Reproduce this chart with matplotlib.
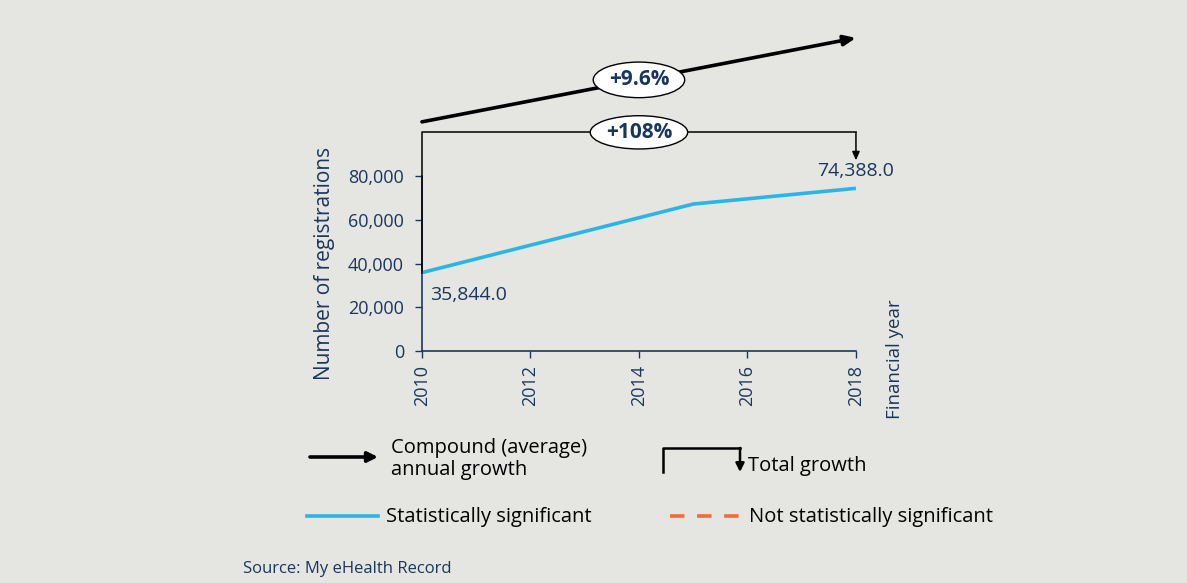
import matplotlib.pyplot as plt
from matplotlib.lines import Line2D
from matplotlib.patches import FancyArrowPatch

years = [2010, 2015, 2018]
registrations = [35844, 67200, 74388]
x_ticks = [2010, 2012, 2014, 2016, 2018]
y_ticks = [0, 20000, 40000, 60000, 80000]
cagr_label = "+9.6%"
total_label = "+108%"

navy = "#1b365d"
blue = "#2bb5e6"
orange = "#f26a36"
bg = "#e5e6e1"

plt.rcParams['font.family'] = ['Open Sans', 'DejaVu Sans']

fig = plt.figure(figsize=(11.87, 5.83), dpi=100)
fig.patch.set_facecolor(bg)
ax = fig.add_axes([0.3555, 0.398, 0.3656, 0.300])
ax.set_facecolor(bg)

ax.plot(years, registrations, color=blue, lw=2.6, solid_capstyle='butt', zorder=3)
ax.text(years[0] + 0.15, registrations[0] - 6000, f"{registrations[0]:,.1f}",
        color=navy, fontsize=14, va='top', ha='left')
ax.text(years[-1], registrations[-1] + 4000, f"{registrations[-1]:,.1f}",
        color=navy, fontsize=14, va='bottom', ha='center')

ax.set_xlim(2010, 2018)
ax.set_ylim(0, 80000)
ax.set_xticks(x_ticks)
ax.set_xticklabels([str(t) for t in x_ticks], rotation=90)
ax.set_yticks(y_ticks)
ax.set_yticklabels([f"{t:,}" for t in y_ticks])
ax.tick_params(colors=navy, labelsize=13, length=5, width=1, labelcolor=navy)
ax.tick_params(axis='y', pad=8)
ax.tick_params(axis='x', pad=5)
for side in ['top', 'right']:
    ax.spines[side].set_visible(False)
for side in ['left', 'bottom']:
    ax.spines[side].set_color(navy)
    ax.spines[side].set_linewidth(1.2)
ax.set_ylabel("Number of registrations", color=navy, fontsize=15, labelpad=9)
ax.text(1.09, -0.39, "Financial year", transform=ax.transAxes, rotation=90,
        color=navy, fontsize=13.5, ha='center', va='bottom')

# growth markers above the plot: x in data, y in axes fraction
tr = ax.get_xaxis_transform()
ax.annotate("", xy=(2018, 1.79), xytext=(2010, 1.31), xycoords=tr, textcoords=tr,
            annotation_clip=False, zorder=4,
            arrowprops=dict(arrowstyle='-|>,head_length=0.7,head_width=0.3',
                            color='black', lw=2.6, shrinkA=0, shrinkB=0))
ax.text(2014, 1.55, cagr_label, transform=tr, ha='center', va='center',
        fontsize=15, fontweight='bold', color=navy, zorder=6,
        bbox=dict(boxstyle='ellipse,pad=0.1', fc='white', ec='black', lw=1))

ax.plot([2010, 2010, 2018], [registrations[0] / 80000, 1.25, 1.25], transform=tr,
        color='black', lw=1.1, clip_on=False, zorder=4)
ax.annotate("", xy=(2018, 1.09), xytext=(2018, 1.25), xycoords=tr, textcoords=tr,
            annotation_clip=False, zorder=4,
            arrowprops=dict(arrowstyle='-|>,head_length=0.5,head_width=0.22',
                            color='black', lw=1.1, shrinkA=0, shrinkB=0))
ax.text(2014, 1.25, total_label, transform=tr, ha='center', va='center',
        fontsize=15, fontweight='bold', color=navy, zorder=6,
        bbox=dict(boxstyle='ellipse,pad=0.06', fc='white', ec='black', lw=1))

# legend drawn in figure pixels
def fx(px):
    return px / 1187

def fy(py):
    return 1 - py / 583

fig.add_artist(FancyArrowPatch((fx(310), fy(457)), (fx(378), fy(457)),
                               transform=fig.transFigure,
                               arrowstyle='-|>,head_length=6,head_width=3',
                               color='black', lw=2.6, shrinkA=0, shrinkB=0))
fig.text(fx(391), fy(459), "Compound (average)\nannual growth", color='black',
         fontsize=14.5, va='center', ha='left', linespacing=1.1)

fig.add_artist(Line2D([fx(663), fx(663), fx(740)], [fy(472), fy(448), fy(448)],
                      transform=fig.transFigure, color='black', lw=1.8))
fig.add_artist(FancyArrowPatch((fx(740), fy(448)), (fx(740), fy(472)),
                               transform=fig.transFigure,
                               arrowstyle='-|>,head_length=5,head_width=2.5',
                               color='black', lw=1.8, shrinkA=0, shrinkB=0))
fig.text(fx(748), fy(466), "Total growth", color='black', fontsize=14.5,
         va='center', ha='left')

fig.add_artist(Line2D([fx(307), fx(378)], [fy(516), fy(516)],
                      transform=fig.transFigure, color=blue, lw=2.6))
fig.text(fx(386), fy(517), "Statistically significant", color='black',
         fontsize=14.5, va='center', ha='left')
fig.add_artist(Line2D([fx(670), fx(745)], [fy(516), fy(516)],
                      transform=fig.transFigure, color=orange, lw=2.6,
                      dashes=(4, 3.5)))
fig.text(fx(749), fy(517), "Not statistically significant", color='black',
         fontsize=14.5, va='center', ha='left')

fig.text(fx(243), fy(569), "Source: My eHealth Record", color=navy,
         fontsize=12, va='center', ha='left')

fig.savefig("out.png", dpi=100, facecolor=bg)
